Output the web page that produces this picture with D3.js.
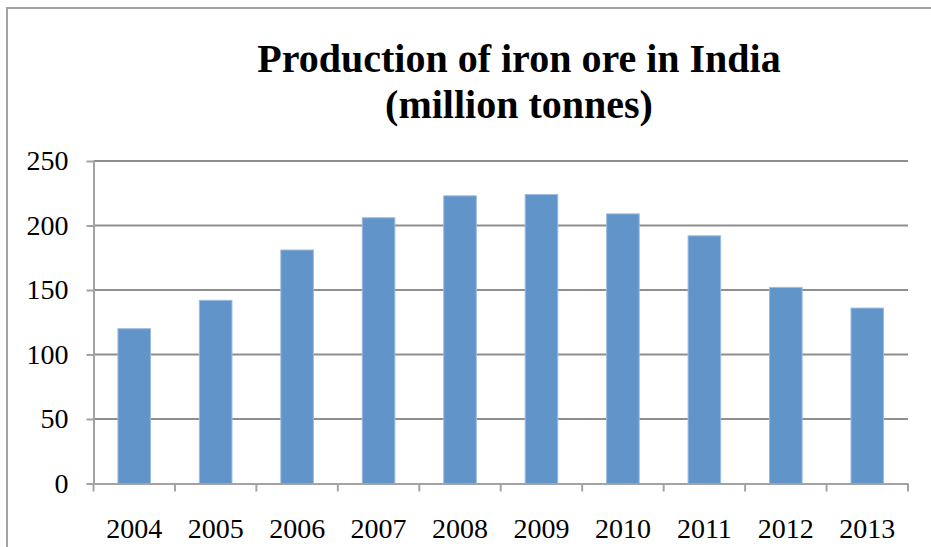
<!DOCTYPE html>
<html>
<head>
<meta charset="utf-8">
<script src="https://cdn.jsdelivr.net/npm/d3@7"></script>
<style>
  body { margin: 0; background: #fff; }
  svg { display: block; }
</style>
</head>
<body>
<script>
// values
const years = ["2004", "2005", "2006", "2007", "2008", "2009", "2010", "2011", "2012", "2013"];
const production = [120, 142, 181, 206, 223, 224, 209, 192, 152, 136];
const yTicks = [0, 50, 100, 150, 200, 250];
const titleLines = ["Production of iron ore in India", "(million tonnes)"];

const w = 931;
const h = 547;
const plotLeft = 93.5, plotRight = 908, plotTop = 161, plotBottom = 483.5;

const svg = d3.select("body")
    .append("svg")
    .attr("width", w)
    .attr("height", h);

// outer frame (top and left edges only visible)
svg.append("path")
    .attr("d", "M7," + h + "V8H" + w)
    .attr("fill", "none")
    .attr("stroke", "#a3a3a3")
    .attr("stroke-width", 2);

// title
svg.append("text")
    .attr("text-anchor", "middle")
    .attr("font-family", "Liberation Serif")
    .attr("font-weight", "bold")
    .attr("font-size", 40)
    .attr("fill", "#000")
    .selectAll("tspan")
    .data(titleLines)
    .enter()
    .append("tspan")
    .attr("x", 519)
    .attr("y", function (d, i) { return 72 + i * 46; })
    .text(function (d) { return d; });

const xScale = d3.scaleBand()
    .domain(years)
    .range([plotLeft, plotRight])
    .paddingInner(0.6)
    .paddingOuter(0.3);

const yScale = d3.scaleLinear()
    .domain([0, 250])
    .range([plotBottom, plotTop]);

// gridlines
svg.append("g")
    .selectAll("line")
    .data(yTicks.filter(function (d) { return d > 0; }))
    .enter()
    .append("line")
    .attr("x1", plotLeft)
    .attr("x2", plotRight)
    .attr("y1", function (d) { return yScale(d); })
    .attr("y2", function (d) { return yScale(d); })
    .attr("stroke", "#8e8e8e")
    .attr("stroke-width", 2);

// bars
svg.append("g")
    .selectAll("rect")
    .data(production)
    .enter()
    .append("rect")
    .attr("x", function (d, i) { return xScale(years[i]); })
    .attr("y", function (d) { return yScale(d); })
    .attr("width", xScale.bandwidth())
    .attr("height", function (d) { return plotBottom - yScale(d); })
    .attr("fill", "#6194c9")
    .attr("stroke", "#9bbbe0")
    .attr("stroke-width", 1);

// y axis
const yAxis = svg.append("g")
    .attr("transform", "translate(" + plotLeft + ",0)")
    .call(d3.axisLeft(yScale).tickValues(yTicks).tickSize(7).tickPadding(18).tickSizeOuter(0));

// x axis: ticks at band boundaries
const xAxis = svg.append("g")
    .attr("transform", "translate(0," + plotBottom + ")")
    .call(d3.axisBottom(xScale).tickSize(0).tickPadding(35).tickSizeOuter(0));

const step = xScale.step();
xAxis.selectAll(".bnd")
    .data(d3.range(years.length + 1))
    .enter()
    .append("line")
    .attr("class", "bnd")
    .attr("x1", function (d) { return plotLeft + d * step; })
    .attr("x2", function (d) { return plotLeft + d * step; })
    .attr("y1", 0)
    .attr("y2", 8)
    .attr("stroke", "#a3a3a3")
    .attr("stroke-width", 2);

[xAxis, yAxis].forEach(function (ax) {
    ax.select(".domain").attr("stroke", "#a3a3a3").attr("stroke-width", 2);
    ax.selectAll(".tick line").attr("stroke", "#a3a3a3").attr("stroke-width", 2);
    ax.selectAll(".tick text")
        .attr("font-family", "Liberation Serif")
        .attr("font-size", 28)
        .attr("fill", "#000");
});
</script>
</body>
</html>
